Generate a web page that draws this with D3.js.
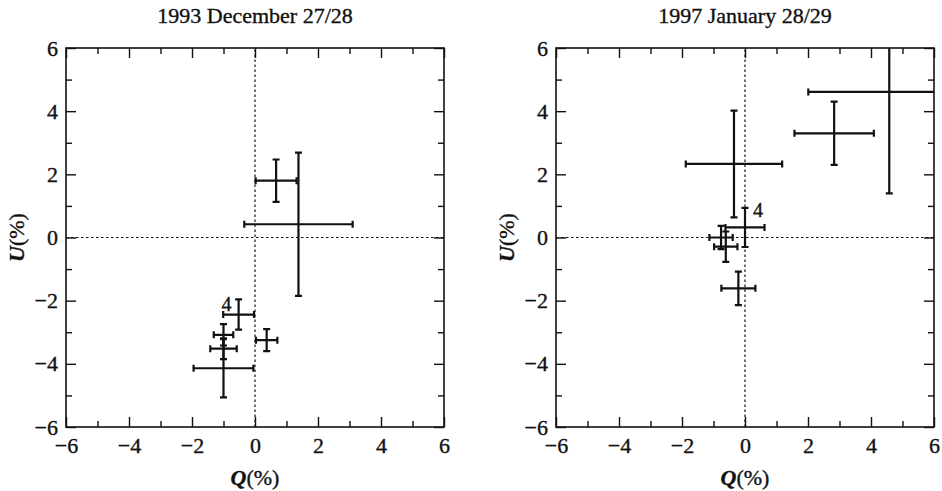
<!DOCTYPE html>
<html>
<head>
<meta charset="utf-8">
<script src="https://cdn.jsdelivr.net/npm/d3@7"></script>
<style>
  body { margin: 0; background: #fff; }
  svg { display: block; }
  text { font-family: "Liberation Serif", "DejaVu Serif", serif; fill: #111; stroke: #111; stroke-width: 0.35; }
  .frame { fill: none; stroke: #111; stroke-width: 1.6; }
  .axis path { display: none; }
  .axis line { stroke: #111; stroke-width: 1.4; }
  .zero { stroke: #111; stroke-width: 1.2; stroke-dasharray: 2.5 2.5; }
  .bar { stroke: #111; stroke-width: 2.2; fill: none; }
</style>
</head>
<body>
<svg id="chart" width="942" height="491"></svg>
<script>
// ---- data ----
var titles = ["1993 December 27/28", "1997 January 28/29"];

// panel 1
var q1    = [0.67, 1.38, -0.52, 0.37, -1.00, -1.00, -1.00];
var q1err = [0.65, 1.72,  0.49, 0.34,  0.31,  0.42,  0.95];
var u1    = [1.80, 0.42, -2.44, -3.25, -3.08, -3.52, -4.14];
var u1err = [0.67, 2.27,  0.48, 0.35,  0.34,  0.33,  0.92];
var label1 = ["", "", "4", "", "", "", ""];

// panel 2
var q2    = [4.58, 2.83, -0.35, 0.00, -0.76, -0.61, -0.21];
var q2err = [2.57, 1.26,  1.53, 0.62,  0.37,  0.37,  0.54];
var u2    = [4.61, 3.30,  2.33, 0.32, 0.00, -0.29, -1.61];
var u2err = [3.21, 1.00,  1.69, 0.62, 0.37,  0.48,  0.53];
var label2 = ["", "", "", "4", "", "", ""];

var majorTicks = [-6, -4, -2, 0, 2, 4, 6];
var minorTicks = [-5, -3, -1, 1, 3, 5];
var xTitle = "Q", yTitle = "U", unit = "(%)";

var svg = d3.select("#chart");

var panels = [
  { left: 66,  title: titles[0], q: q1, qe: q1err, u: u1, ue: u1err, lab: label1, ldx: -12, ldy: -11 },
  { left: 556, title: titles[1], q: q2, qe: q2err, u: u2, ue: u2err, lab: label2, ldx: 13, ldy: -17 }
];

var plotW = 378, plotTop = 48, plotBottom = 427;

panels.forEach(function(p, pi) {
    var x = d3.scaleLinear().domain([-6, 6]).range([p.left, p.left + plotW]);
    var y = d3.scaleLinear().domain([-6, 6]).range([plotBottom, plotTop]);
    var g = svg.append("g");

    // title
    g.append("text")
        .attr("x", x(0)).attr("y", 23)
        .attr("text-anchor", "middle")
        .style("font-size", "22px")
        .text(p.title);

    // zero lines
    g.append("line").attr("class", "zero")
        .attr("x1", x(-6)).attr("x2", x(6)).attr("y1", y(0)).attr("y2", y(0));
    g.append("line").attr("class", "zero")
        .attr("x1", x(0)).attr("x2", x(0)).attr("y1", y(-6)).attr("y2", y(6));

    // axes, ticks pointing inward on all four sides
    function ax(gen, tr, vals, size, labels) {
        var a = gen.tickValues(vals).tickSizeInner(-size).tickSizeOuter(0).tickPadding(labels ? 12 : 0)
            .tickFormat(labels ? function(d) { return d < 0 ? "\u2212" + (-d) : d; } : function() { return ""; });
        var s = g.append("g").attr("class", "axis").attr("transform", tr).call(a);
        s.selectAll("text").style("font-size", "22px").style("font-family", "Liberation Serif");
        return s;
    }
    ax(d3.axisBottom(x), "translate(0," + plotBottom + ")", majorTicks, 10, true)
        .selectAll("text").attr("dy", "0.95em").attr("y", 5);
    ax(d3.axisBottom(x), "translate(0," + plotBottom + ")", minorTicks, 6, false);
    ax(d3.axisTop(x), "translate(0," + plotTop + ")", majorTicks, 10, false);
    ax(d3.axisTop(x), "translate(0," + plotTop + ")", minorTicks, 6, false);
    ax(d3.axisLeft(y), "translate(" + p.left + ",0)", majorTicks, 10, true)
        .selectAll("text").attr("x", -8);
    ax(d3.axisLeft(y), "translate(" + p.left + ",0)", minorTicks, 6, false);
    ax(d3.axisRight(y), "translate(" + (p.left + plotW) + ",0)", majorTicks, 10, false);
    ax(d3.axisRight(y), "translate(" + (p.left + plotW) + ",0)", minorTicks, 6, false);

    // frame
    g.append("rect").attr("class", "frame")
        .attr("x", x(-6)).attr("y", y(6))
        .attr("width", x(6) - x(-6)).attr("height", y(-6) - y(6));

    // axis titles
    var xt = g.append("text")
        .attr("x", x(0)).attr("y", 485)
        .attr("text-anchor", "middle")
        .style("font-size", "22px");
    xt.append("tspan").style("font-style", "italic").style("font-weight", "bold").text(xTitle);
    xt.append("tspan").text(unit);

    var yt = g.append("text")
        .attr("transform", "translate(" + (p.left - 42) + "," + y(0) + ") rotate(-90)")
        .attr("text-anchor", "middle")
        .style("font-size", "22px");
    yt.append("tspan").style("font-style", "italic").style("font-weight", "bold").text(yTitle);
    yt.append("tspan").text(unit);

    // error bars, clipped to the plot box
    var clipId = "clip" + pi;
    svg.append("clipPath").attr("id", clipId).append("rect")
        .attr("x", x(-6)).attr("y", y(6))
        .attr("width", x(6) - x(-6)).attr("height", y(-6) - y(6));

    var idx = d3.range(p.q.length);
    var pts = g.append("g").attr("clip-path", "url(#" + clipId + ")")
        .selectAll("g").data(idx).enter().append("g");
    var cap = 3.5;

    pts.append("path").attr("class", "bar")
        .attr("d", function(i) {
            var xa = x(p.q[i] - p.qe[i]), xb = x(p.q[i] + p.qe[i]), yc = y(p.u[i]);
            return "M" + xa + "," + yc + "L" + xb + "," + yc +
                   "M" + xa + "," + (yc - cap) + "L" + xa + "," + (yc + cap) +
                   "M" + xb + "," + (yc - cap) + "L" + xb + "," + (yc + cap);
        });
    pts.append("path").attr("class", "bar")
        .attr("d", function(i) {
            var ya = y(p.u[i] - p.ue[i]), yb = y(p.u[i] + p.ue[i]), xc = x(p.q[i]);
            return "M" + xc + "," + ya + "L" + xc + "," + yb +
                   "M" + (xc - cap) + "," + ya + "L" + (xc + cap) + "," + ya +
                   "M" + (xc - cap) + "," + yb + "L" + (xc + cap) + "," + yb;
        });

    // point labels
    g.selectAll(".plab").data(idx.filter(function(i) { return p.lab[i]; }))
        .enter().append("text").attr("class", "plab")
        .attr("x", function(i) { return x(p.q[i]) + p.ldx; })
        .attr("y", function(i) { return y(p.u[i]) + p.ldy; })
        .attr("text-anchor", "middle")
        .attr("dy", "0.35em")
        .style("font-size", "20px")
        .text(function(i) { return p.lab[i]; });
});
</script>
</body>
</html>
